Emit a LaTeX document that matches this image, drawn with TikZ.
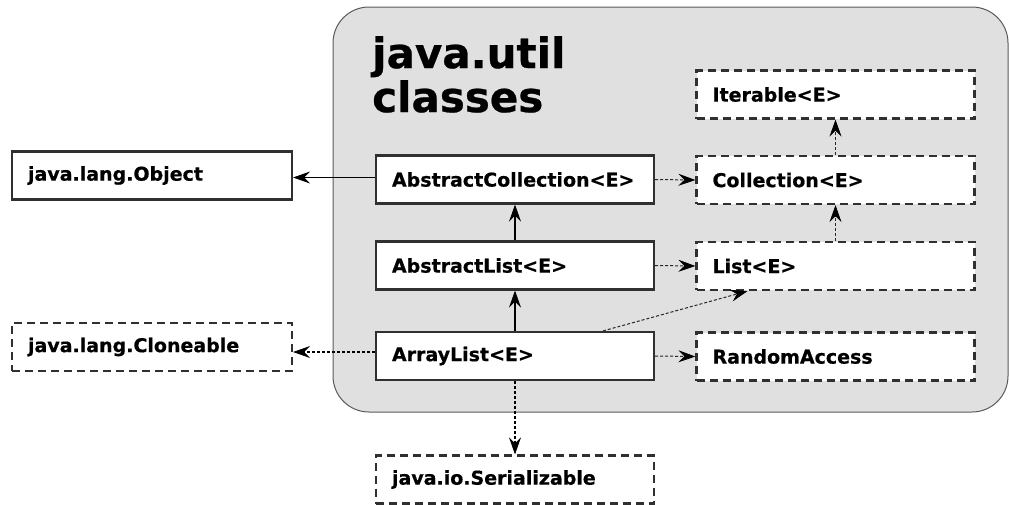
\documentclass[tikz,border=0pt]{standalone}
\usepackage{fontspec}
\setmainfont{DejaVu Sans}[BoldFeatures={FakeBold=0.6}]
\usetikzlibrary{arrows.meta}
\definecolor{pkgfill}{HTML}{E0E0E0}
\definecolor{pkgline}{HTML}{5A5A5A}
\definecolor{boxline}{HTML}{303030}
\begin{document}
\begin{tikzpicture}[x=1pt,y=-1pt,
  classbox/.style={draw=boxline, fill=white, line width=2.2pt, rectangle,
    minimum height=48pt, text width=246pt, inner xsep=16pt, align=left,
    font=\fontsize{19}{22}\selectfont\bfseries},
  ifacebox/.style={classbox, dash pattern=on 8pt off 5pt},
  tip/.style={-{Stealth[length=17pt,width=12pt,inset=6pt,line width=0.8pt,fill=black,color=black]}},
  inherit/.style={tip, line width=1.3pt, draw=black},
  implements/.style={tip, line width=1pt, draw=black!85, dash pattern=on 3pt off 2pt},
  extimpl/.style={tip, line width=2pt, draw=black, dash pattern=on 3pt off 2pt}]
\useasboundingbox (0,0) rectangle (1009,504);
% package background
\path[fill=pkgfill, draw=pkgline, line width=1pt, rounded corners=36pt]
  (333,7) rectangle (1008,412);
\node[anchor=north west, inner sep=0pt, align=left,
  font=\fontsize{42}{44}\selectfont\bfseries] (title) at (372,36) {java.util\\classes};
% nodes
\node[classbox, minimum width=280pt, text width=248pt] (obj) at (152,175.5) {java.lang.Object};
\node[ifacebox, minimum width=280pt, text width=248pt] (clo) at (152,347) {java.lang.Cloneable};
\node[classbox] (ac) at (515,179.5) {AbstractCollection<E>};
\node[classbox] (al) at (515,265.5) {AbstractList<E>};
\node[classbox] (arr) at (515,356) {ArrayList<E>};
\node[ifacebox] (ser) at (515,479.5) {java.io.Serializable};
\node[ifacebox] (it) at (835.5,94.5) {Iterable<E>};
\node[ifacebox] (col) at (835.5,180) {Collection<E>};
\node[ifacebox] (lst) at (835.5,266) {List<E>};
\node[ifacebox] (ra) at (835.5,356.5) {RandomAccess};
% connectors
\draw[inherit] ([yshift=2pt]ac.west) -- ([yshift=-2pt]obj.east);
\draw[inherit] (al.north) -- (ac.south);
\draw[inherit] (arr.north) -- (al.south);
\draw[implements] (ac.east) -- (col.west);
\draw[implements] (al.east) -- (lst.west);
\draw[implements] (arr.east) -- (ra.west);
\draw[implements] ([xshift=88pt]arr.north) -- ([xshift=-88pt]lst.south);
\draw[implements] (col.north) -- (it.south);
\draw[implements] (lst.north) -- (col.south);
\draw[extimpl] ([yshift=4pt]arr.west) -- ([yshift=-5pt]clo.east);
\draw[extimpl] (arr.south) -- (ser.north);
\end{tikzpicture}
\end{document}
